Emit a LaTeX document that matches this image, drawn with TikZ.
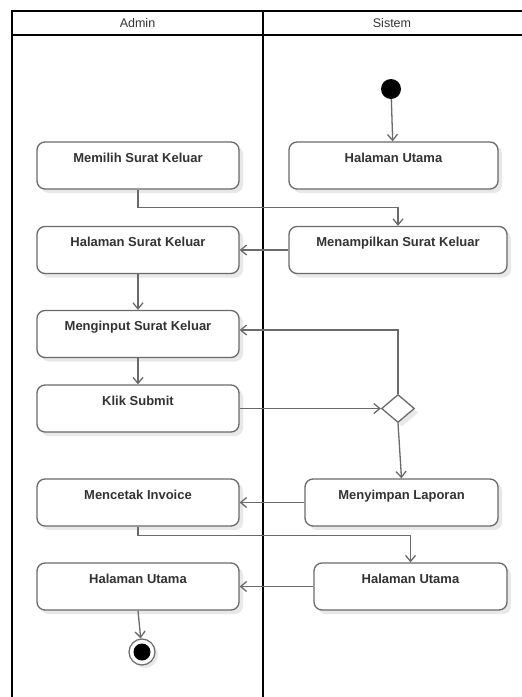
\documentclass[tikz,border=0pt]{standalone}
\usepackage{fontspec}
\setmainfont{Liberation Sans}
\usetikzlibrary{arrows.meta,shapes.geometric,shadows}

\definecolor{linegray}{HTML}{6A6A6A}
\definecolor{textgray}{HTML}{333333}

\begin{document}
\begin{tikzpicture}[x=1pt, y=-1pt,
	activity/.style={draw=linegray, line width=1.3pt, fill=white, rounded corners=8pt,
		drop shadow={shadow xshift=4pt, shadow yshift=-4pt, fill=black!9, opacity=1},
		inner sep=0pt, text height=20pt, text depth=27pt, align=center,
		text=textgray, font=\bfseries\fontsize{13}{15}\selectfont},
	flow/.style={draw=linegray, line width=1.3pt, -{Straight Barb[length=6pt, width=10pt]}},
	lane/.style={draw=black, line width=1.8pt}]

	\useasboundingbox (0,0) rectangle (522,697);

	% Draw the swimlanes
	\draw[lane] (12,697) -- (12,11) -- (522,11);
	\draw[lane] (12,35) -- (522,35);
	\draw[lane] (263,11) -- (263,697);
	\node[text=textgray, font=\fontsize{12.5}{14}\selectfont] (hadmin) at (137.5,23) {Admin};
	\node[text=textgray, font=\fontsize{12.5}{14}\selectfont] (hsistem) at (392,23) {Sistem};

	% Admin activities
	\node[activity, minimum width=202pt] (memilih) at (138,165.5) {Memilih Surat Keluar};
	\node[activity, minimum width=202pt] (halsurat) at (138,250) {Halaman Surat Keluar};
	\node[activity, minimum width=202pt] (menginput) at (138,334) {Menginput Surat Keluar};
	\node[activity, minimum width=202pt] (klik) at (138,408.5) {Klik Submit};
	\node[activity, minimum width=202pt] (mencetak) at (138,502.5) {Mencetak Invoice};
	\node[activity, minimum width=202pt] (halutamaA) at (138,586.5) {Halaman Utama};

	% Sistem activities
	\node[activity, minimum width=209pt] (halutamaS) at (393.5,165.5) {Halaman Utama};
	\node[activity, minimum width=218pt] (menampilkan) at (398,250) {Menampilkan Surat Keluar};
	\node[activity, minimum width=193pt] (menyimpan) at (401.5,502.5) {Menyimpan Laporan};
	\node[activity, minimum width=193pt] (halutamaS2) at (410.5,586.5) {Halaman Utama};

	% Start, decision and end
	\node[circle, fill=black, minimum size=20pt, inner sep=0pt] (start) at (391,89) {};
	\node[diamond, draw=linegray, line width=1.3pt, fill=white, minimum width=33pt, minimum height=28pt, inner sep=0pt,
		drop shadow={shadow xshift=4pt, shadow yshift=-4pt, fill=black!9, opacity=1}] (cek) at (398,408.5) {};
	\node[circle, draw=linegray, line width=1.2pt, fill=white, minimum size=26pt, inner sep=0pt,
		drop shadow={shadow xshift=3pt, shadow yshift=-3pt, fill=black!9, opacity=1}] (end) at (142,652) {};
	\fill[black] (end.center) circle (8.5pt);

	% Draw the flows
	\draw[flow] (start) -- (halutamaS);
	\draw[flow] (memilih.south) -- ++(0,18) -| (menampilkan.north);
	\draw[flow] (menampilkan.west) -- (halsurat.east);
	\draw[flow] (halsurat.south) -- (menginput.north);
	\draw[flow] (menginput.south) -- (klik.north);
	\draw[flow] (klik.east) -- (cek.west);
	\draw[flow] (cek.north) |- ([yshift=4pt]menginput.east);
	\draw[flow] (cek.south) -- (menyimpan.north);
	\draw[flow] (menyimpan.west) -- (mencetak.east);
	\draw[flow] (mencetak.south) -- ++(0,9) -| (halutamaS2.north);
	\draw[flow] (halutamaS2.west) -- (halutamaA.east);
	\draw[flow] (halutamaA.south) -- (end);

\end{tikzpicture}
\end{document}
